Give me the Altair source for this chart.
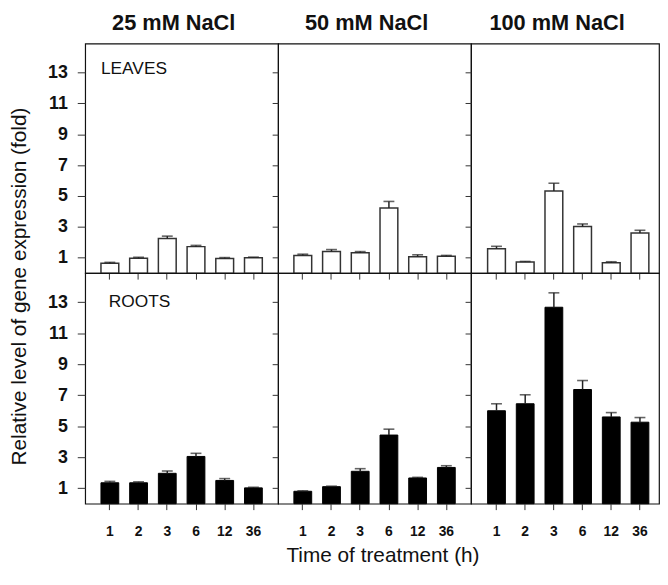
import altair as alt
import pandas as pd

times = ["1", "2", "3", "6", "12", "36"]
concentrations = ["25 mM NaCl", "50 mM NaCl", "100 mM NaCl"]
tissues = ["LEAVES", "ROOTS"]

leaves_25 = [0.65, 0.97, 2.25, 1.72, 0.95, 1.00]
leaves_25_err = [0.05, 0.06, 0.15, 0.08, 0.06, 0.04]
leaves_50 = [1.15, 1.40, 1.32, 4.22, 1.07, 1.10]
leaves_50_err = [0.08, 0.13, 0.08, 0.43, 0.12, 0.05]
leaves_100 = [1.58, 0.72, 5.33, 3.02, 0.67, 2.60]
leaves_100_err = [0.16, 0.04, 0.50, 0.17, 0.07, 0.18]

roots_25 = [1.35, 1.35, 1.96, 3.05, 1.50, 1.02]
roots_25_err = [0.09, 0.06, 0.15, 0.20, 0.12, 0.04]
roots_50 = [0.80, 1.10, 2.09, 4.43, 1.66, 2.34]
roots_50_err = [0.03, 0.03, 0.17, 0.38, 0.04, 0.11]
roots_100 = [6.00, 6.45, 12.68, 7.37, 5.60, 5.26]
roots_100_err = [0.45, 0.58, 0.93, 0.58, 0.28, 0.30]

y_ticks = [1, 3, 5, 7, 9, 11, 13]
y_title = "Relative level of gene expression (fold)"
x_title = "Time of treatment (h)"

series = {
    (0, 0): (leaves_25, leaves_25_err),
    (0, 1): (leaves_50, leaves_50_err),
    (0, 2): (leaves_100, leaves_100_err),
    (1, 0): (roots_25, roots_25_err),
    (1, 1): (roots_50, roots_50_err),
    (1, 2): (roots_100, roots_100_err),
}

FONT = "Liberation Sans"
WIDTHS = [195, 195, 190]
HEIGHTS = [232, 233]
YDOMAIN = [0, 14.88]


def make_panel(row, col):
    means, errs = series[(row, col)]
    df = pd.DataFrame({"time": times, "mean": means, "err": errs})
    df["hi"] = df["mean"] + df["err"]

    if col < 2:
        xscale = alt.Scale(domain=times, paddingInner=0.38, paddingOuter=0.55)
    else:
        xscale = alt.Scale(domain=times, paddingInner=0.38, paddingOuter=0.466, align=0.62)

    xaxis_kwargs = dict(
        labels=(row == 1), ticks=True, tickSize=6, domain=False, labelAngle=0,
        labelFont=FONT, labelFontSize=14, labelFontWeight="bold", labelPadding=15,
        tickColor="#333", labelColor="#111", labelOverlap=False,
    )
    if row == 1 and col == 1:
        xaxis_kwargs.update(title=x_title, titleFont=FONT, titleFontSize=21,
                            titleFontWeight="normal", titlePadding=6, titleColor="#111",
                            titleX=WIDTHS[col] / 2 + 8)
        x = alt.X("time:N", scale=xscale, axis=alt.Axis(**xaxis_kwargs))
    else:
        x = alt.X("time:N", scale=xscale, axis=alt.Axis(**xaxis_kwargs), title=None)

    yaxis_kwargs = dict(
        values=y_ticks, tickCount=20, labels=(col == 0), tickSize=(8 if col == 0 else 6),
        domain=False, grid=False, labelFont=FONT, labelFontSize=18, labelFontWeight="bold",
        labelPadding=10, tickColor="#333", labelColor="#111", labelOverlap=False,
    )
    if row == 1 and col == 0:
        yaxis_kwargs.update(title=y_title, titleFont=FONT, titleFontSize=21,
                            titleFontWeight="normal", titlePadding=18, titleY=13,
                            titleColor="#111")
        y = alt.Y("mean:Q", scale=alt.Scale(domain=YDOMAIN, nice=False), axis=alt.Axis(**yaxis_kwargs))
    else:
        y = alt.Y("mean:Q", scale=alt.Scale(domain=YDOMAIN, nice=False), axis=alt.Axis(**yaxis_kwargs), title=None)

    base = alt.Chart(df)
    if row == 0:
        bars = base.mark_bar(fill="white", stroke="#333", strokeWidth=1.5).encode(x=x, y=y)
    else:
        bars = base.mark_bar(fill="black", stroke="black", strokeWidth=1).encode(x=x, y=y)
    rule = base.mark_rule(color="#222", strokeWidth=1.5).encode(
        x=alt.X("time:N"), y=alt.Y("mean:Q"), y2="hi:Q")
    cap = base.mark_tick(color="#222", size=11, thickness=1.6).encode(
        x=alt.X("time:N"), y=alt.Y("hi:Q"))
    layers = [bars, rule, cap]

    if col == 0:
        lab = alt.Chart(pd.DataFrame({"label": [tissues[row]]})).mark_text(
            align="left", baseline="middle", font=FONT, fontSize=17.5, color="#111",
            dx=(-9 if row == 0 else -1),
        ).encode(x=alt.datum("1"), y=alt.datum(13.25 if row == 0 else 13.0), text="label:N")
        layers.append(lab)

    panel = alt.layer(*layers).properties(width=WIDTHS[col], height=HEIGHTS[row])
    if row == 0:
        panel = panel.properties(title=alt.TitleParams(
            concentrations[col], font=FONT, fontSize=22, fontWeight="bold",
            color="#111", dx=-8, offset=9, anchor="middle"))
    return panel


panels = [make_panel(r, c) for r in range(2) for c in range(3)]

chart = alt.concat(*panels, columns=3, spacing=0, bounds="flush").properties(
    padding=0
).configure_view(stroke="#111", strokeWidth=1.2).configure_axis(grid=False)

chart.save("out.html", embed_options={"renderer": "svg", "actions": False})
